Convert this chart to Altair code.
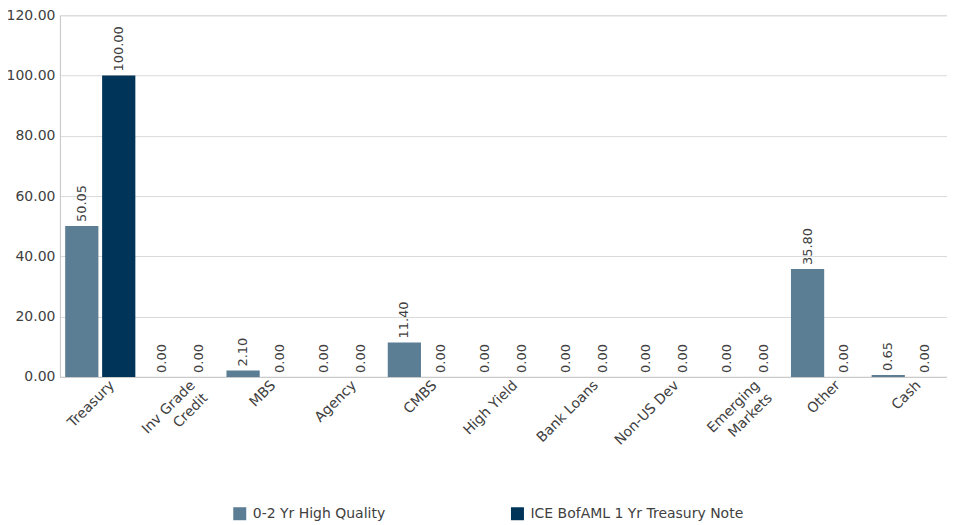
import altair as alt
import pandas as pd

categories = ["Treasury", "Inv Grade\nCredit", "MBS", "Agency", "CMBS", "High Yield",
              "Bank Loans", "Non-US Dev", "Emerging\nMarkets", "Other", "Cash"]
series_names = ["0-2 Yr High Quality", "ICE BofAML 1 Yr Treasury Note"]
fund_values = [50.05, 0.00, 2.10, 0.00, 11.40, 0.00, 0.00, 0.00, 0.00, 35.80, 0.65]
bench_values = [100.00, 0.00, 0.00, 0.00, 0.00, 0.00, 0.00, 0.00, 0.00, 0.00, 0.00]
colors = ["#5B7E94", "#003459"]
y_ticks = [0, 20, 40, 60, 80, 100, 120]

rows = []
for c, a, b in zip(categories, fund_values, bench_values):
    rows.append({"cat": c, "series": series_names[0], "value": a})
    rows.append({"cat": c, "series": series_names[1], "value": b})
df = pd.DataFrame(rows)

FONT = "DejaVu Sans"

x = alt.X("cat:N", sort=categories, title=None,
          scale=alt.Scale(paddingInner=0.13, paddingOuter=0.065),
          axis=alt.Axis(labelAngle=-45, labelAlign="right", labelBaseline="middle",
                        labelExpr="split(datum.value, '\\n')", labelOffset=12,
                        labelPadding=6, ticks=False, domainColor="#c8c8c8",
                        labelColor="#404040", labelFontSize=14, labelFont=FONT,
                        labelLineHeight=18))
xo = alt.XOffset("series:N", sort=series_names, scale=alt.Scale(paddingInner=0.1))
y = alt.Y("value:Q", title=None,
          scale=alt.Scale(domain=[0, 120], nice=False),
          axis=alt.Axis(values=y_ticks, format=".2f", ticks=False, domainColor="#c8c8c8",
                        gridColor="#d9d9d9", labelColor="#404040", labelFontSize=14,
                        labelFont=FONT, labelPadding=5))
color = alt.Color("series:N", sort=series_names,
                  scale=alt.Scale(domain=series_names, range=colors),
                  legend=alt.Legend(title=None, orient="none", direction="horizontal",
                                    legendX=173, legendY=492, symbolType="square",
                                    symbolSize=169, symbolStrokeWidth=0, labelFontSize=14,
                                    labelFont=FONT, labelColor="#404040", labelLimit=400,
                                    columnPadding=125, labelOffset=6))

base = alt.Chart(df)
bars = base.mark_bar().encode(x=x, xOffset=xo, y=y, color=color)
labels = base.mark_text(angle=270, align="left", baseline="middle", dx=4,
                        fontSize=13, font=FONT, color="#404040").encode(
    x=x, xOffset=xo, y=y, text=alt.Text("value:Q", format=".2f"))

chart = (bars + labels).properties(
    width=888, height=362,
    autosize=alt.AutoSizeParams(type="none"),
    padding={"left": 52, "top": 7, "right": 0, "bottom": 148},
).configure_view(stroke="#c8c8c8").configure(background="white")

chart.save("out.html", embed_options={"renderer": "svg", "actions": False})
